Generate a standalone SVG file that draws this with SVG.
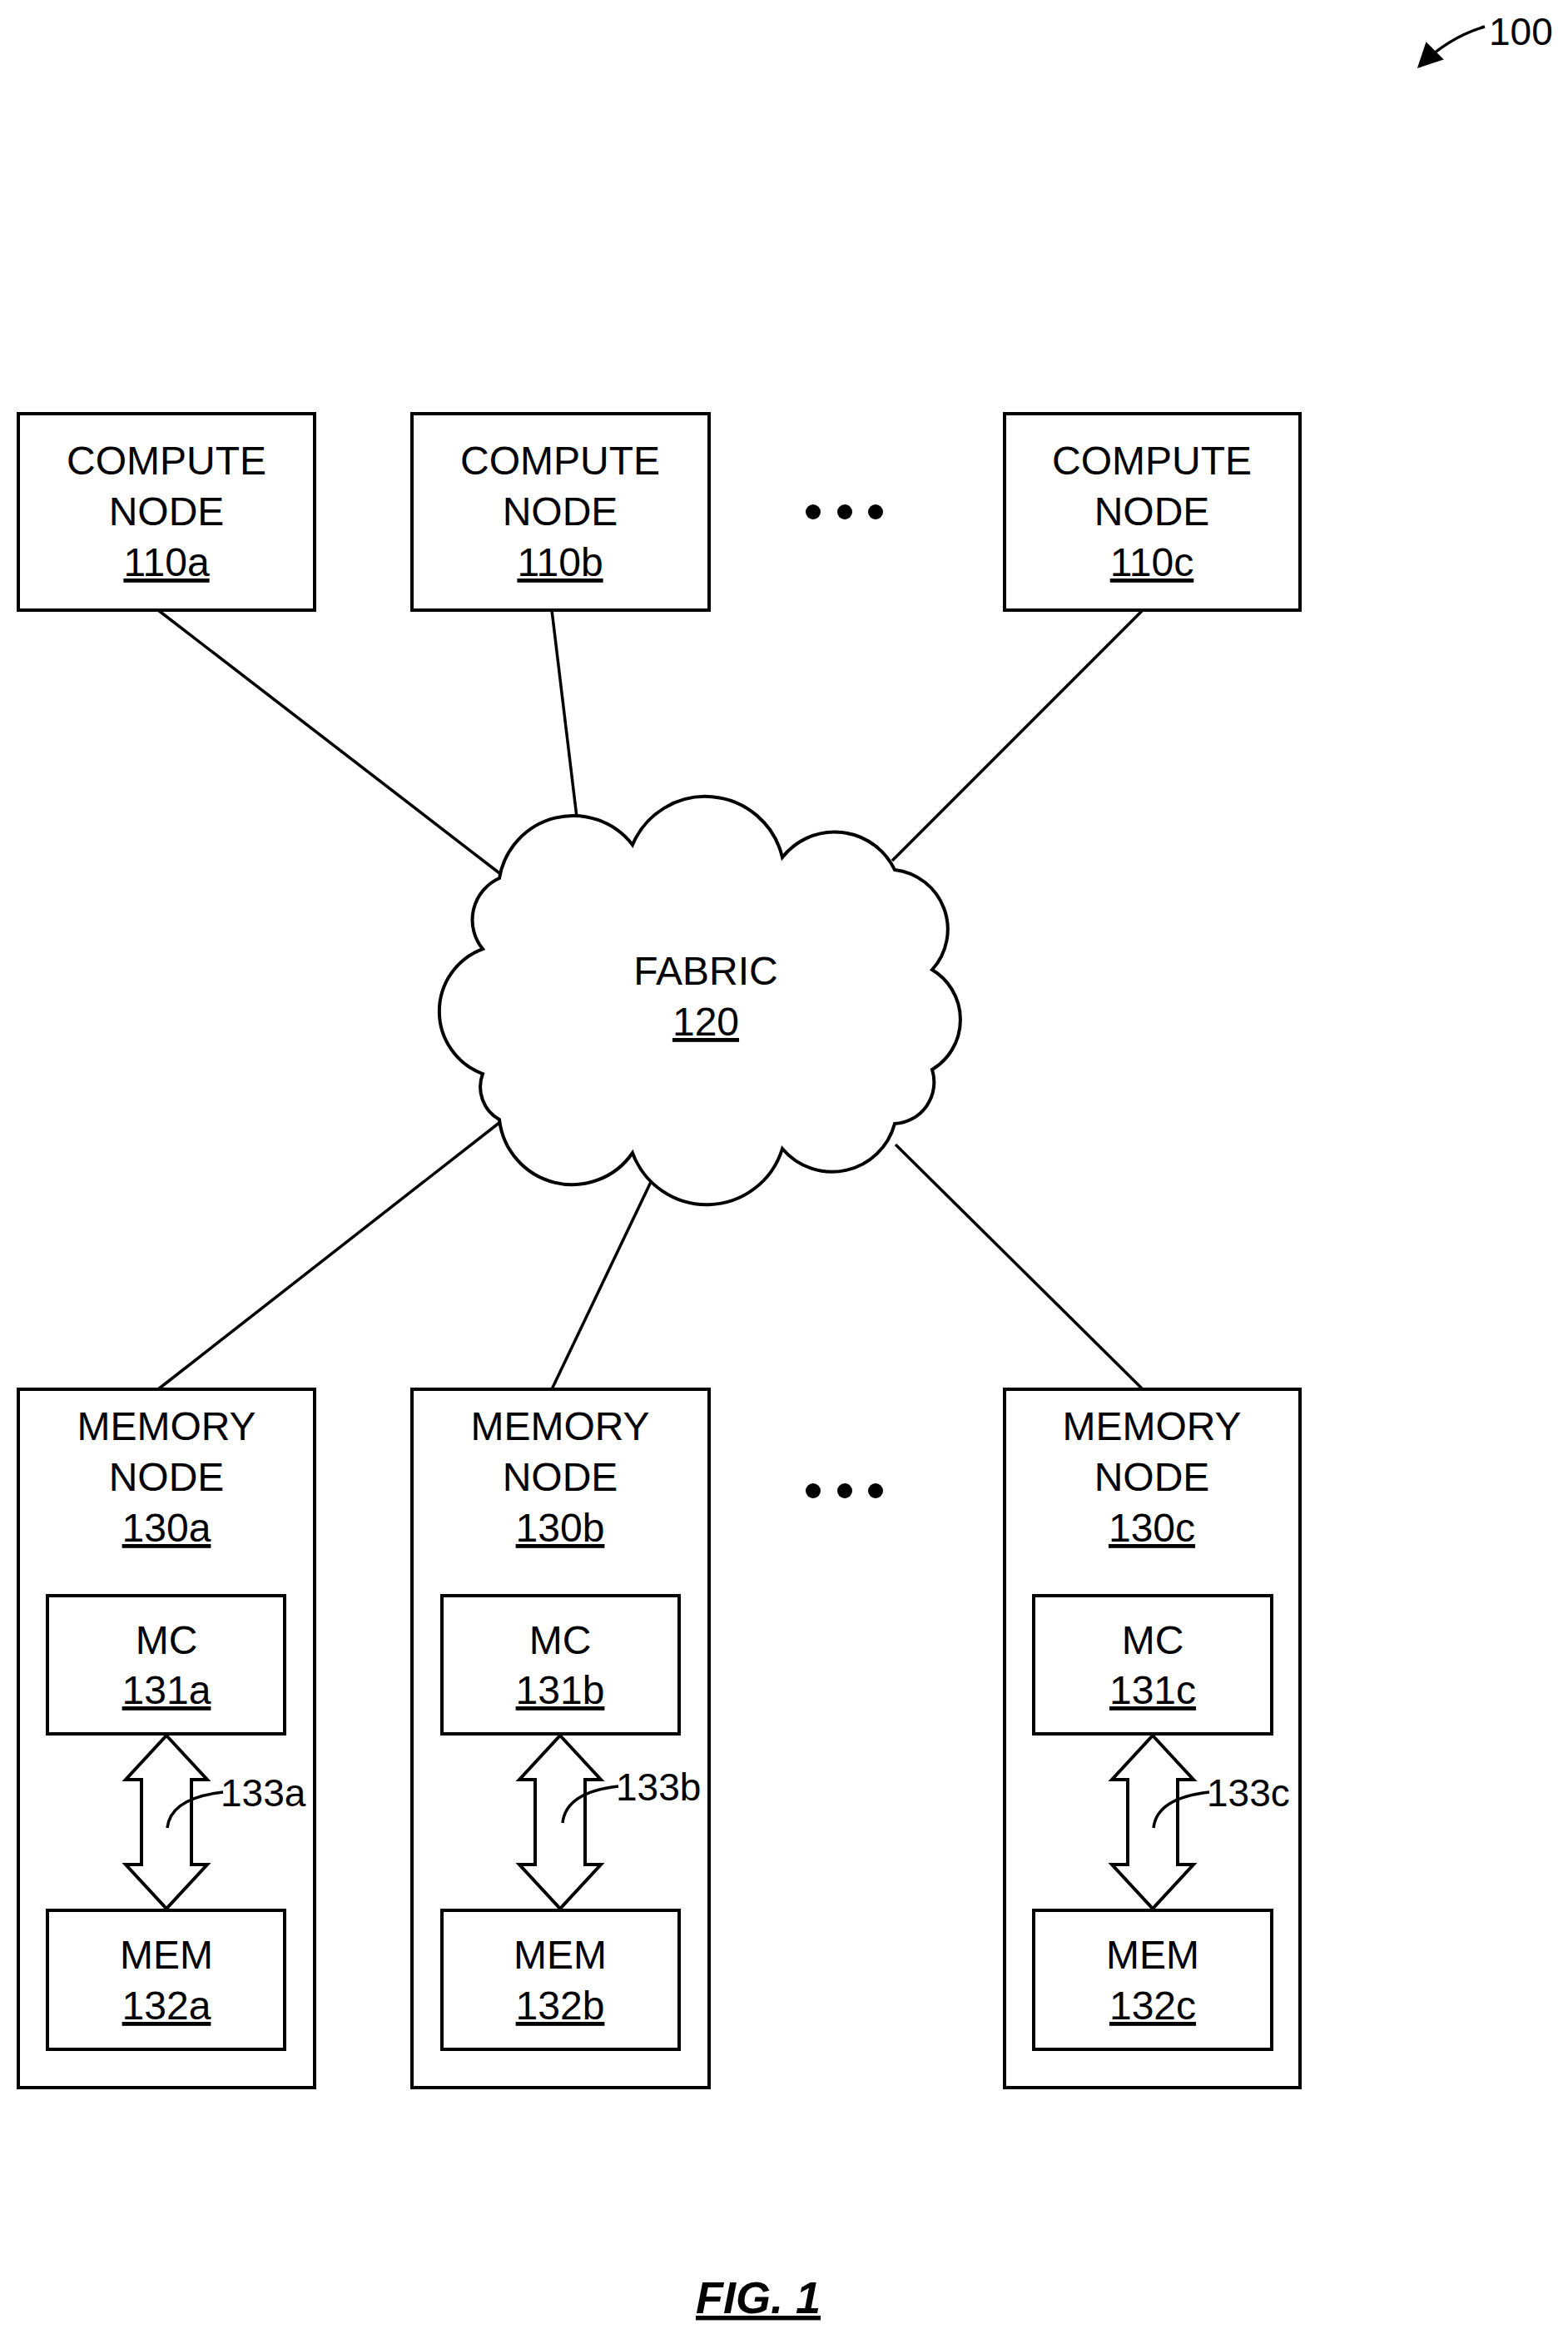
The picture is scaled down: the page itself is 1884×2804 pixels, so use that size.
<svg xmlns="http://www.w3.org/2000/svg" width="1884" height="2804" viewBox="0 0 1884 2804">
<style>
.b{fill:#fff;stroke:#000;stroke-width:4}
.t{font-family:"Liberation Sans",Arial,sans-serif;font-size:48px;text-anchor:middle;fill:#000}
.u{text-decoration:underline}
.l{font-family:"Liberation Sans",Arial,sans-serif;font-size:46px;fill:#000}
.c{stroke:#000;stroke-width:3.5;fill:none}
</style>
<defs><marker id="ah" viewBox="0 0 10 10" refX="9" refY="5" markerWidth="8" markerHeight="8" orient="auto" markerUnits="userSpaceOnUse"><path d="M0,0 L10,5 L0,10 z"/></marker>
<marker id="ah2" viewBox="0 0 10 10" refX="9" refY="5" markerWidth="40" markerHeight="30" orient="auto" markerUnits="userSpaceOnUse"><path d="M0,0 L10,5 L0,10 z"/></marker></defs>
<rect width="1884" height="2804" fill="#fff"/>
<g id="connectors" class="c">
<line x1="190" y1="733" x2="604" y2="1052"/>
<line x1="663" y1="733" x2="697" y2="1015"/>
<line x1="1373" y1="733" x2="1072" y2="1034"/>
<line x1="601" y1="1348" x2="190" y2="1669"/>
<line x1="782" y1="1420" x2="663" y2="1669"/>
<line x1="1076" y1="1375" x2="1373" y2="1669"/>
</g>
<g id="ref100"><path class="c" d="M1784,32 Q1740,45 1705,80" marker-end="url(#ah2)"/><text class="l" x="1789" y="54">100</text></g>
<g id="n110a"><rect class="b" x="22" y="497" width="356" height="236"/><text class="t" x="200" y="570">COMPUTE</text><text class="t" x="200" y="631">NODE</text><text class="t u" x="200" y="692">110a</text></g>
<g id="n110b"><rect class="b" x="495" y="497" width="357" height="236"/><text class="t" x="673" y="570">COMPUTE</text><text class="t" x="673" y="631">NODE</text><text class="t u" x="673" y="692">110b</text></g>
<g id="n110c"><rect class="b" x="1207" y="497" width="355" height="236"/><text class="t" x="1384" y="570">COMPUTE</text><text class="t" x="1384" y="631">NODE</text><text class="t u" x="1384" y="692">110c</text></g>
<g id="dots1"><circle cx="977" cy="615" r="9"/><circle cx="1015" cy="615" r="9"/><circle cx="1052" cy="615" r="9"/></g>
<g id="dots2"><circle cx="977" cy="1791" r="9"/><circle cx="1015" cy="1791" r="9"/><circle cx="1052" cy="1791" r="9"/></g>
<g id="fabric"><path class="b" d="M600,1055 A90,90 0 0 1 760,1015 A95,95 0 0 1 940,1030 A80,80 0 0 1 1075,1045 A72,72 0 0 1 1120,1165 A70,70 0 0 1 1120,1285 A50,50 0 0 1 1075,1350 A78,78 0 0 1 940,1380 A95,95 0 0 1 760,1385 A88,88 0 0 1 600,1345 A45,45 0 0 1 580,1290 A80,80 0 0 1 580,1140 A55,55 0 0 1 600,1055 Z"/><text class="t" x="848" y="1183">FABRIC</text><text class="t u" x="848" y="1244">120</text></g>
<g id="m130a">
<rect class="b" x="22" y="1669" width="356" height="839"/><text class="t" x="200" y="1730">MEMORY</text><text class="t" x="200" y="1791">NODE</text><text class="t u" x="200" y="1852">130a</text>
<rect class="b" x="57" y="1917" width="285" height="166"/><text class="t" x="200" y="1987">MC</text><text class="t u" x="200" y="2047">131a</text>
<rect class="b" x="57" y="2295" width="285" height="167"/><text class="t" x="200" y="2365">MEM</text><text class="t u" x="200" y="2426">132a</text>
<path class="b" d="M200,2085 L249,2138 L230,2138 L230,2240 L249,2240 L200,2293 L151,2240 L170,2240 L170,2138 L151,2138 Z"/>
<path class="c" d="M201,2196 Q205,2160 268,2153"/><text class="l" x="265" y="2170">133a</text></g>
<g id="m130b">
<rect class="b" x="495" y="1669" width="357" height="839"/><text class="t" x="673" y="1730">MEMORY</text><text class="t" x="673" y="1791">NODE</text><text class="t u" x="673" y="1852">130b</text>
<rect class="b" x="531" y="1917" width="285" height="166"/><text class="t" x="673" y="1987">MC</text><text class="t u" x="673" y="2047">131b</text>
<rect class="b" x="531" y="2295" width="285" height="167"/><text class="t" x="673" y="2365">MEM</text><text class="t u" x="673" y="2426">132b</text>
<path class="b" d="M673,2085 L722,2138 L703,2138 L703,2240 L722,2240 L673,2293 L624,2240 L643,2240 L643,2138 L624,2138 Z"/>
<path class="c" d="M676,2190 Q680,2153 743,2146"/><text class="l" x="740" y="2163">133b</text></g>
<g id="m130c">
<rect class="b" x="1207" y="1669" width="355" height="839"/><text class="t" x="1384" y="1730">MEMORY</text><text class="t" x="1384" y="1791">NODE</text><text class="t u" x="1384" y="1852">130c</text>
<rect class="b" x="1242" y="1917" width="286" height="166"/><text class="t" x="1385" y="1987">MC</text><text class="t u" x="1385" y="2047">131c</text>
<rect class="b" x="1242" y="2295" width="286" height="167"/><text class="t" x="1385" y="2365">MEM</text><text class="t u" x="1385" y="2426">132c</text>
<path class="b" d="M1385,2085 L1434,2138 L1415,2138 L1415,2240 L1434,2240 L1385,2293 L1336,2240 L1355,2240 L1355,2138 L1336,2138 Z"/>
<path class="c" d="M1386,2196 Q1390,2160 1453,2153"/><text class="l" x="1450" y="2170">133c</text></g>
<text class="t u" x="911" y="2779" style="font-weight:bold;font-style:italic;font-size:54px">FIG. 1</text>
</svg>
